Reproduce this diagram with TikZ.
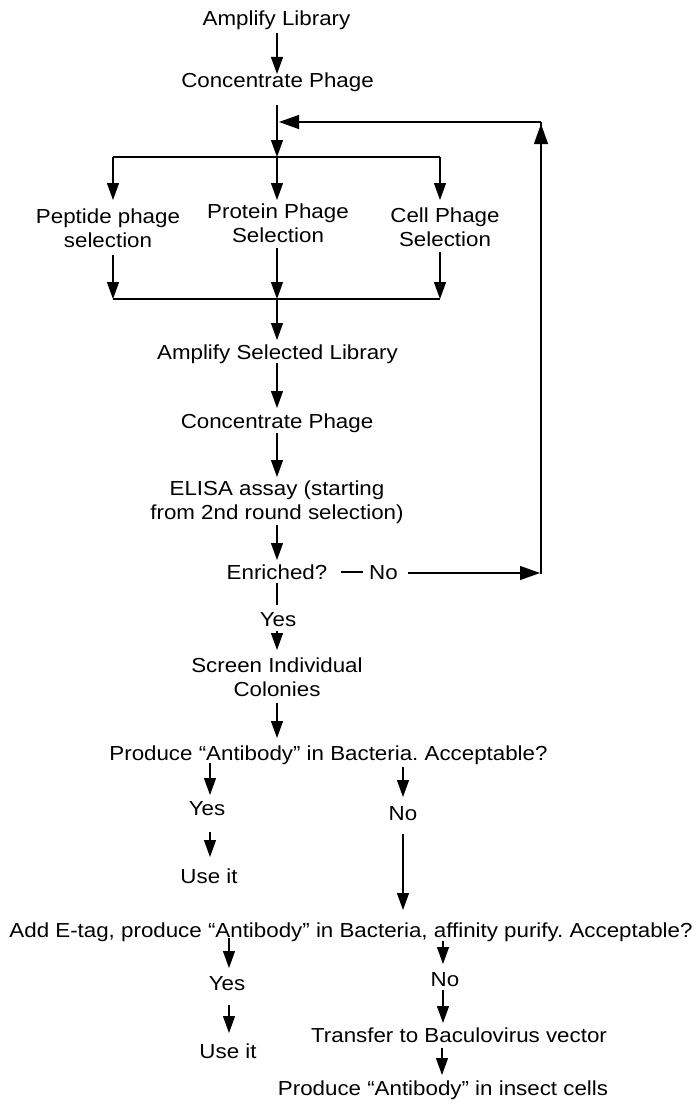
\documentclass[tikz,border=0pt]{standalone}
\usepackage{fontspec}
\setmainfont{Liberation Sans}[FakeStretch=1.1]
\usetikzlibrary{arrows.meta}
\frenchspacing
\begin{document}
\begin{tikzpicture}[x=1pt,y=-1pt,
  lbl/.style={anchor=base, inner sep=0pt, font=\fontsize{20.3}{24}\selectfont, align=center},
  arr/.style={-{Triangle[length=17pt,width=12pt]}, line width=1.2pt},
  bigarr/.style={-{Triangle[length=20pt,width=14pt]}, line width=1.2pt},
  ln/.style={line width=1.2pt}]
\useasboundingbox (0,0) rectangle (696,1108);
% text nodes (base anchor = baseline of the last line)
\node[lbl] (amp) at (276.5,26) {Amplify Library};
\node[lbl] (conc) at (277.5,88) {Concentrate Phage};
\node[lbl] (pep) at (108,247) {Peptide phage\\selection};
\node[lbl] (prot) at (278,242) {Protein Phage\\Selection};
\node[lbl] (cell) at (445,246) {Cell Phage\\Selection};
\node[lbl] (asl) at (277.5,359) {Amplify Selected Library};
\node[lbl] (conc2) at (277,428) {Concentrate Phage};
\node[lbl] (elisa) at (277,519) {ELISA assay (starting\\from 2nd round selection)};
\node[lbl] (enr) at (277,579) {Enriched?};
\node[lbl] (no1) at (383.5,579) {No};
\node[lbl] (yes1) at (278,626) {Yes};
\node[lbl] (screen) at (277,696) {Screen Individual\\Colonies};
\node[lbl] (prod) at (328.5,760) {Produce “Antibody” in Bacteria. Acceptable?};
\node[lbl] (yes2) at (207,815) {Yes};
\node[lbl] (no2) at (403,820) {No};
\node[lbl] (use1) at (209,883) {Use it};
\node[lbl] (add) at (351,937) {Add E-tag, produce “Antibody” in Bacteria, affinity purify. Acceptable?};
\node[lbl] (yes3) at (227,990) {Yes};
\node[lbl] (no3) at (445,986) {No};
\node[lbl] (use2) at (228,1058) {Use it};
\node[lbl] (trans) at (459,1042) {Transfer to Baculovirus vector};
\node[lbl] (insect) at (443,1095) {Produce “Antibody” in insect cells};
% junction coordinates
\coordinate (amp-o) at (277,33);   \coordinate (conc-i) at (277,74);
\coordinate (conc-o) at (277,105); \coordinate (split) at (277,157);
\coordinate (split-l) at (113,157); \coordinate (split-r) at (440,157);
\coordinate (pep-i) at (113,200); \coordinate (prot-i) at (277,200); \coordinate (cell-i) at (440,200);
\coordinate (pep-o) at (113,255); \coordinate (prot-o) at (277,248); \coordinate (cell-o) at (440,252);
\coordinate (join-l) at (113,299); \coordinate (join) at (277,299); \coordinate (join-r) at (440,299);
\coordinate (asl-i) at (277,340); \coordinate (asl-o) at (277,363);
\coordinate (conc2-i) at (277,408); \coordinate (conc2-o) at (277,433);
\coordinate (elisa-i) at (277,477); \coordinate (elisa-o) at (277,525);
\coordinate (enr-i) at (277,560); \coordinate (enr-o) at (277,583);
\coordinate (yes1-i) at (277,605); \coordinate (yes1-o) at (277,631);
\coordinate (screen-i) at (277,650); \coordinate (screen-o) at (277,703);
\coordinate (prod-i) at (277,738);
\coordinate (prod-ol) at (210,763); \coordinate (yes2-i) at (210,795);
\coordinate (prod-or) at (403,767); \coordinate (no2-i) at (403,797);
\coordinate (yes2-o) at (210,832); \coordinate (use1-i) at (210,857);
\coordinate (no2-o) at (403,834); \coordinate (add-i) at (403,910);
\coordinate (add-ol) at (229,938); \coordinate (yes3-i) at (229,968);
\coordinate (add-or) at (443,941); \coordinate (no3-i) at (443,964);
\coordinate (yes3-o) at (229,1005); \coordinate (use2-i) at (229,1033);
\coordinate (no3-o) at (443,990); \coordinate (trans-i) at (443,1023);
\coordinate (trans-o) at (442,1048); \coordinate (insect-i) at (442,1075);
\coordinate (enr-r) at (341,572); \coordinate (no1-l) at (363,572);
\coordinate (no1-r) at (408,573); \coordinate (loop-b) at (540,573);
\coordinate (loop-s) at (541,574); \coordinate (loop-t) at (541,124);
\coordinate (loop-c) at (541,122); \coordinate (loop-e) at (279,122);
% connectors
\draw[arr] (amp-o) -- (conc-i);
\draw[arr] (conc-o) -- (split);
\draw[ln] (split-l) -- (split-r);
\draw[arr] (split-l) -- (pep-i);
\draw[arr] (split) -- (prot-i);
\draw[arr] (split-r) -- (cell-i);
\draw[arr] (pep-o) -- (join-l);
\draw[arr] (prot-o) -- (join);
\draw[arr] (cell-o) -- (join-r);
\draw[ln] (join-l) -- (join-r);
\draw[arr] (join) -- (asl-i);
\draw[arr] (asl-o) -- (conc2-i);
\draw[arr] (conc2-o) -- (elisa-i);
\draw[arr] (elisa-o) -- (enr-i);
\draw[ln] (enr-o) -- (yes1-i);
\draw[arr] (yes1-o) -- (screen-i);
\draw[arr] (screen-o) -- (prod-i);
\draw[arr] (prod-ol) -- (yes2-i);
\draw[arr] (prod-or) -- (no2-i);
\draw[arr] (yes2-o) -- (use1-i);
\draw[arr] (no2-o) -- (add-i);
\draw[arr] (add-ol) -- (yes3-i);
\draw[arr] (add-or) -- (no3-i);
\draw[arr] (yes3-o) -- (use2-i);
\draw[arr] (no3-o) -- (trans-i);
\draw[arr] (trans-o) -- (insect-i);
\draw[ln] (enr-r) -- (no1-l);
\draw[bigarr] (no1-r) -- (loop-b);
\draw[ln] (loop-s) -- (loop-c);
\draw[bigarr] (loop-s) -- (loop-t);
\draw[bigarr] (loop-c) -- (loop-e);
\end{tikzpicture}
\end{document}
